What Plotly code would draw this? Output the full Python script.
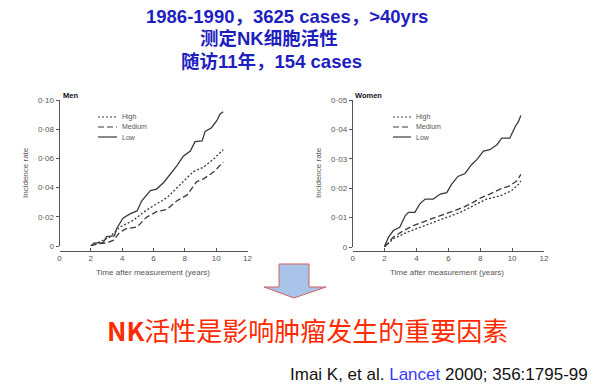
import plotly.graph_objects as go

# ---------------- data ----------------
years_ticks = [0, 2, 4, 6, 8, 10, 12]

men_low_x = [2.0, 2.2, 2.8, 3.0, 3.5, 3.65, 4.05, 4.5, 4.95, 5.25, 5.8, 6.2, 6.65, 7.05, 7.5, 7.9, 8.35, 8.65, 9.1, 9.3, 9.7, 10.05, 10.25, 10.45]
men_low_y = [0, 0.002, 0.0023, 0.0065, 0.007, 0.012, 0.019, 0.022, 0.024, 0.031, 0.038, 0.039, 0.0435, 0.049, 0.055, 0.0615, 0.065, 0.0715, 0.072, 0.0785, 0.081, 0.086, 0.0905, 0.092]
men_high_x = [2.0, 2.3, 2.6, 3.2, 3.85, 4.7, 5.35, 6.0, 6.85, 7.7, 8.55, 9.2, 9.85, 10.45]
men_high_y = [0, 0.0015, 0.0027, 0.006, 0.013, 0.0175, 0.023, 0.0276, 0.033, 0.042, 0.051, 0.054, 0.0597, 0.066]
men_med_x = [2.0, 2.4, 3.0, 3.45, 3.85, 4.3, 4.95, 5.55, 6.2, 6.85, 7.5, 8.15, 8.75, 9.2, 9.85, 10.45]
men_med_y = [0, 0.0015, 0.002, 0.004, 0.0095, 0.012, 0.013, 0.0197, 0.0235, 0.025, 0.031, 0.035, 0.044, 0.046, 0.0508, 0.0575]

women_low_x = [2.0, 2.25, 2.55, 2.95, 3.3, 3.5, 3.9, 4.2, 4.55, 5.05, 5.5, 5.9, 6.2, 6.6, 7.05, 7.45, 7.8, 8.2, 8.6, 9.05, 9.35, 9.85, 10.2, 10.4, 10.55]
women_low_y = [0.0003, 0.0034, 0.0056, 0.0067, 0.0107, 0.0118, 0.0118, 0.0146, 0.0163, 0.0163, 0.018, 0.0185, 0.0213, 0.024, 0.025, 0.028, 0.0298, 0.0326, 0.0331, 0.0348, 0.037, 0.037, 0.041, 0.0427, 0.0447]
women_med_x = [2.0, 2.55, 3.2, 3.8, 4.65, 5.5, 6.3, 6.95, 7.55, 8.1, 8.6, 9.25, 9.85, 10.3, 10.55]
women_med_y = [0, 0.0034, 0.0056, 0.0073, 0.009, 0.0107, 0.0124, 0.0135, 0.0152, 0.0169, 0.018, 0.0197, 0.0208, 0.0225, 0.0247]
women_high_x = [2.0, 2.55, 3.4, 4.2, 5.05, 5.9, 6.75, 7.55, 8.4, 9.25, 9.95, 10.4, 10.55]
women_high_y = [0, 0.0028, 0.005, 0.0067, 0.0084, 0.0101, 0.0118, 0.014, 0.0163, 0.0174, 0.0191, 0.0213, 0.0225]

men_yticks = [0, 0.02, 0.04, 0.06, 0.08, 0.10]
men_ytext = ["0", "0·02", "0·04", "0·06", "0·08", "0·10"]
women_yticks = [0, 0.01, 0.02, 0.03, 0.04, 0.05]
women_ytext = ["0", "0·01", "0·02", "0·03", "0·04", "0·05"]

series_names = ["High", "Medium", "Low"]
series_dash = {"High": "2px,2px", "Medium": "6px,3px", "Low": "solid"}

W, H = 600, 388
LINE = "#3a3a3a"
AX = "#555555"
FONT = "Liberation Sans, Arial, sans-serif"


def px(x):
    return x / W


def py(y):
    return 1 - y / H


fig = go.Figure()

panels = [
    ("x", "y", {"High": (men_high_x, men_high_y), "Medium": (men_med_x, men_med_y), "Low": (men_low_x, men_low_y)}),
    ("x2", "y2", {"High": (women_high_x, women_high_y), "Medium": (women_med_x, women_med_y), "Low": (women_low_x, women_low_y)}),
]
for xa, ya, d in panels:
    for name in series_names:
        xs, ys = d[name]
        fig.add_trace(go.Scatter(
            x=xs, y=ys, mode="lines", name=name, xaxis=xa, yaxis=ya,
            line=dict(color=LINE, width=1.3, dash=series_dash[name]),
            showlegend=False, hoverinfo="skip"))

axis_common = dict(showgrid=False, zeroline=False, showline=True, linecolor=AX, linewidth=1,
                   tickfont=dict(family=FONT, size=8, color=AX), tickcolor=AX, ticklen=3,
                   automargin=False)

fig.update_layout(
    xaxis=dict(domain=[px(59.5), px(247.5)], range=[0, 12], tickvals=years_ticks, ticks="inside",
               anchor="free", position=py(250.5), **axis_common),
    yaxis=dict(domain=[py(246), py(100)], range=[0, 0.10], tickvals=men_yticks, ticktext=men_ytext,
               ticks="outside", anchor="x", **axis_common),
    xaxis2=dict(domain=[px(352.7), px(544)], range=[0, 12], tickvals=years_ticks, ticks="inside",
                anchor="free", position=py(250.5), **axis_common),
    yaxis2=dict(domain=[py(247), py(100)], range=[0, 0.05], tickvals=women_yticks, ticktext=women_ytext,
                ticks="outside", anchor="x2", **axis_common),
)

ann = []
shapes = []


def note(text, x, y, size, color, family=FONT, xanchor="center", **kw):
    ann.append(dict(text=text, x=px(x), y=py(y), xref="paper", yref="paper", xanchor=xanchor,
                    yanchor="middle", showarrow=False, font=dict(family=family, size=size, color=color), **kw))


for cx in (153, 447):
    note("Time after measurement (years)", cx, 272, 8, AX)
for cx in (25, 318):
    note("Incidence rate", cx, 173, 8, AX, textangle=-90)
note("<b>Men</b>", 61, 95, 7.5, "#111", xanchor="left")
note("<b>Women</b>", 353, 95, 7.5, "#111", xanchor="left")

# legend keys
for x0, x1 in ((98, 117), (393, 411)):
    for i, name in enumerate(series_names):
        yy = 117 + 10 * i
        shapes.append(dict(type="line", xref="paper", yref="paper", x0=px(x0), x1=px(x1), y0=py(yy), y1=py(yy),
                           line=dict(color=LINE, width=1.2, dash=series_dash[name])))
        note(name, x1 + 3, yy, 7, AX, xanchor="left")

TFONT = "Liberation Sans, Noto Sans CJK SC, sans-serif"
BLUE = "#1f1fbf"
note("<b>1986-1990，3625 cases，>40yrs</b>", 287, 17, 18.5, BLUE, family=TFONT)
note("<b>测定NK细胞活性</b>", 269, 39, 18.5, BLUE, family=TFONT)
note("<b>随访11年，154 cases</b>", 271, 62, 18.5, BLUE, family=TFONT)

note("<b>NK</b>活性是影响肿瘤发生的重要因素", 307, 329, 26, "#ff2a00", family="Noto Sans CJK SC, sans-serif")
note("Imai K, et al. <span style='color:#3a3aff'>Lancet</span> 2000; 356:1795-99", 590, 374, 17, "#111",
     xanchor="right")

pts = [(279, 264), (309, 264), (309, 287), (326, 287), (294, 298), (264, 287), (279, 287)]
path = "M " + " L ".join(f"{px(a):.4f},{py(b):.4f}" for a, b in pts) + " Z"
shapes.append(dict(type="path", xref="paper", yref="paper", path=path,
                   fillcolor="#a9c4e8", line=dict(color="#d06060", width=1)))

fig.update_layout(
    width=W, height=H, margin=dict(l=0, r=0, t=0, b=0, autoexpand=False),
    paper_bgcolor="white", plot_bgcolor="rgba(0,0,0,0)",
    annotations=ann, shapes=shapes, showlegend=False,
)

fig.write_html("out.html", config={"displayModeBar": False, "staticPlot": True},
               post_script="document.body.style.margin='0';document.body.style.overflow='hidden';")
